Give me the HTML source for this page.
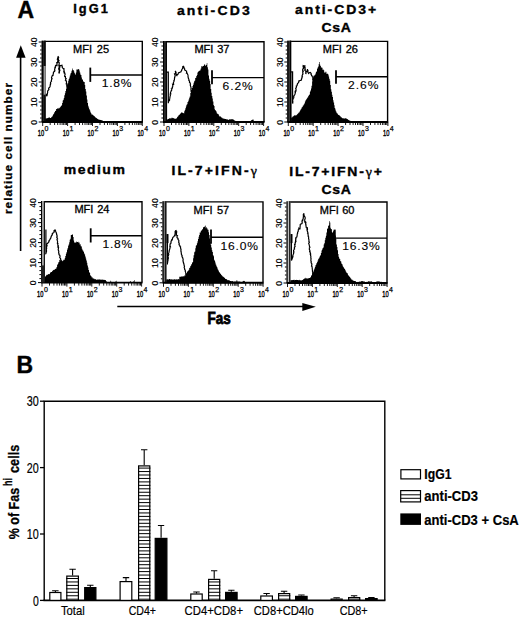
<!DOCTYPE html><html><head><meta charset="utf-8"><style>html,body{margin:0;padding:0;background:#fff;}svg{display:block;} text{font-family:"Liberation Sans",sans-serif;}</style></head><body>
<svg width="520" height="618" viewBox="0 0 520 618">
<rect width="520" height="618" fill="#fff"/>
<text x="17.5" y="17.7" font-size="23" font-weight="bold" stroke="#000" stroke-width="0.4">A</text>
<text x="73.3" y="13.0" font-size="12.8" font-weight="bold" stroke="#000" stroke-width="0.35" textLength="34.5" lengthAdjust="spacing">IgG1</text>
<text transform="translate(176.9,15.4) scale(1.12,1)" font-size="12.5" font-weight="bold" stroke="#000" stroke-width="0.35" textLength="65.1" lengthAdjust="spacing">anti-CD3</text>
<text transform="translate(295.0,14.3) scale(1.12,1)" font-size="12.5" font-weight="bold" stroke="#000" stroke-width="0.35" textLength="72.5" lengthAdjust="spacing">anti-CD3+</text>
<text transform="translate(321.5,32.3) scale(1.12,1)" font-size="12.5" font-weight="bold" stroke="#000" stroke-width="0.35" textLength="26.2" lengthAdjust="spacing">CsA</text>
<text transform="translate(63.8,173.5) scale(1.12,1)" font-size="12.5" font-weight="bold" stroke="#000" stroke-width="0.35" textLength="54.5" lengthAdjust="spacing">medium</text>
<text transform="translate(171.5,175.3) scale(1.12,1)" font-size="12.5" font-weight="bold" stroke="#000" stroke-width="0.35" textLength="76.2" lengthAdjust="spacing">IL-7+IFN-<tspan font-family='Liberation Serif' font-weight='normal'>&#947;</tspan></text>
<text transform="translate(289.2,175.8) scale(1.12,1)" font-size="12.5" font-weight="bold" stroke="#000" stroke-width="0.35" textLength="82.8" lengthAdjust="spacing">IL-7+IFN-<tspan font-family='Liberation Serif' font-weight='normal'>&#947;</tspan>+</text>
<text transform="translate(321.5,194.3) scale(1.12,1)" font-size="12.5" font-weight="bold" stroke="#000" stroke-width="0.35" textLength="26.2" lengthAdjust="spacing">CsA</text>
<polyline points="46.1,93.7 46.1,94.7 46.9,96.1 47.7,92.0 47.6,90.9 48.5,90.1 48.9,89.6 48.5,89.1 48.9,87.8 49.3,87.7 49.5,87.6 50.1,86.4 50.1,86.0 50.3,84.4 50.5,84.5 50.7,83.8 50.5,82.3 50.7,82.1 51.5,81.2 51.3,80.7 51.7,79.3 51.3,79.4 52.0,78.8 51.5,77.6 51.7,77.1 52.1,75.9 52.5,75.6 53.0,75.5 53.0,74.9 53.4,73.4 53.4,73.4 53.4,72.4 54.5,71.4 54.2,71.3 54.9,70.4 54.6,69.3 55.0,68.6 54.7,68.0 55.4,67.5 55.3,66.4 55.7,65.5 57.0,65.6 56.9,64.1 57.0,63.7 56.7,62.0 57.4,63.2 57.8,60.9 58.2,60.2 57.8,60.0 57.3,59.3 57.9,57.7 58.6,57.5 58.0,56.2 58.2,56.5 57.7,58.2 59.0,58.2 57.9,57.8 58.1,58.3 58.6,60.0 59.0,60.7 58.2,61.0 58.8,62.3 58.9,62.3 59.3,62.9 59.0,64.5 59.0,65.7 58.6,65.1 59.7,67.1 58.8,67.8 58.7,68.8 58.7,68.2 58.9,69.9 59.7,70.0 59.6,71.0 59.3,72.2 59.1,73.0 59.4,73.4 59.3,72.1 59.6,72.0 59.0,72.0 59.8,70.4 59.9,70.3 59.1,68.2 59.6,68.2 59.9,66.9 59.3,66.6 60.3,65.2 59.8,65.4 61.3,65.6 61.8,65.4 61.9,65.3 62.3,66.6 62.2,67.3 63.5,69.0 63.5,68.6 64.0,68.7 63.9,70.2 64.3,71.3 63.8,71.4 64.2,72.9 64.6,72.7 65.0,73.9 65.1,74.4 64.8,75.1 64.7,76.5 65.4,76.6 65.5,77.9 65.5,78.3 66.1,78.4 65.4,80.3 66.3,80.8 66.1,81.9 66.5,81.2 66.5,83.0 66.2,83.8 66.9,84.0 66.7,84.7 66.8,85.5 67.3,86.3 67.6,86.7 67.2,86.9 67.7,88.2 67.7,89.5 68.1,89.9 68.0,89.9 68.1,90.6 68.2,92.2 68.4,92.7 68.6,92.9 69.0,93.8 68.7,94.2 69.0,95.0 69.3,96.2 69.0,95.9 69.5,96.9 69.3,98.3 69.8,98.2 70.2,99.2 69.7,99.5 69.9,101.1 70.4,101.7 70.5,102.4 70.5,102.8 70.7,103.8 70.8,104.5 71.0,105.0 71.0,105.7 71.4,106.0 71.4,107.2 71.6,107.8 72.2,108.6 72.3,109.3 72.3,109.6 72.5,110.3 72.6,111.3 73.0,112.0 73.4,112.9 73.7,113.0 74.0,113.9 74.2,115.0 74.5,115.5 74.9,116.0 75.2,117.0 75.8,117.6 76.0,118.0 76.8,118.3 77.1,118.9 77.8,119.5 78.3,119.7 79.0,120.0 79.4,120.3 80.0,121.0" fill="none" stroke="#000" stroke-width="1.2" stroke-linejoin="miter" stroke-miterlimit="2"/>
<polygon points="44.0,122.5 44.0,118.2 44.5,118.2 44.5,118.4 45.1,118.4 45.1,118.5 45.6,118.5 45.6,118.4 46.2,118.4 46.2,118.4 46.7,118.4 46.7,118.0 47.3,118.0 47.3,118.3 47.8,118.3 47.8,118.0 48.4,118.0 48.4,117.5 48.9,117.5 48.9,117.7 49.5,117.7 49.5,117.3 50.0,117.3 50.0,118.0 50.6,118.0 50.6,117.9 51.1,117.9 51.1,117.3 51.7,117.3 51.7,116.7 52.2,116.7 52.2,116.3 52.8,116.3 52.8,114.9 53.3,114.9 53.3,114.1 53.9,114.1 53.9,113.2 54.4,113.2 54.4,112.0 55.0,112.0 55.0,111.1 55.5,111.1 55.5,110.7 56.1,110.7 56.1,109.0 56.6,109.0 56.6,109.0 57.2,109.0 57.2,108.2 57.7,108.2 57.7,108.6 58.3,108.6 58.3,108.5 58.8,108.5 58.8,107.7 59.4,107.7 59.4,108.3 59.9,108.3 59.9,107.2 60.5,107.2 60.5,106.4 61.0,106.4 61.0,106.1 61.6,106.1 61.6,105.1 62.1,105.1 62.1,103.0 62.7,103.0 62.7,100.6 63.2,100.6 63.2,99.7 63.8,99.7 63.8,98.1 64.3,98.1 64.3,95.3 64.9,95.3 64.9,93.2 65.4,93.2 65.4,90.9 66.0,90.9 66.0,88.8 66.5,88.8 66.5,85.4 67.1,85.4 67.1,84.3 67.6,84.3 67.6,83.3 68.2,83.3 68.2,80.7 68.7,80.7 68.7,79.1 69.3,79.1 69.3,77.4 69.8,77.4 69.8,75.4 70.4,75.4 70.4,73.5 70.9,73.5 70.9,72.8 71.5,72.8 71.5,70.8 72.0,70.8 72.0,68.5 72.6,68.5 72.6,70.2 73.1,70.2 73.1,70.0 73.7,70.0 73.7,71.2 74.2,71.2 74.2,72.8 74.8,72.8 74.8,73.8 75.3,73.8 75.3,74.8 75.9,74.8 75.9,72.4 76.4,72.4 76.4,69.6 77.0,69.6 77.0,69.4 77.5,69.4 77.5,69.6 78.1,69.6 78.1,69.1 78.6,69.1 78.6,69.3 79.2,69.3 79.2,70.6 79.7,70.6 79.7,72.4 80.3,72.4 80.3,74.4 80.8,74.4 80.8,74.9 81.4,74.9 81.4,77.6 81.9,77.6 81.9,79.5 82.5,79.5 82.5,79.4 83.0,79.4 83.0,81.3 83.6,81.3 83.6,82.0 84.1,82.0 84.1,82.0 84.7,82.0 84.7,84.9 85.2,84.9 85.2,88.9 85.8,88.9 85.8,91.5 86.3,91.5 86.3,95.5 86.9,95.5 86.9,99.6 87.4,99.6 87.4,102.9 88.0,102.9 88.0,105.8 88.5,105.8 88.5,107.4 89.1,107.4 89.1,109.0 89.6,109.0 89.6,110.3 90.2,110.3 90.2,111.7 90.7,111.7 90.7,113.1 91.3,113.1 91.3,114.3 91.8,114.3 91.8,114.8 92.4,114.8 92.4,114.6 92.9,114.6 92.9,115.1 93.5,115.1 93.5,116.0 94.0,116.0 94.0,115.9 94.6,115.9 94.6,116.8 95.1,116.8 95.1,117.2 95.7,117.2 95.7,117.8 96.2,117.8 96.2,118.1 96.8,118.1 96.8,118.6 97.3,118.6 97.3,119.1 97.9,119.1 97.9,119.1 98.4,119.1 98.4,119.8 99.0,119.8 99.0,120.1 99.5,120.1 99.5,119.6 100.1,119.6 100.1,119.9 100.6,119.9 100.6,120.1 101.2,120.1 101.2,120.2 101.7,120.2 101.7,120.3 102.3,120.3 104.0,122.5" fill="#000"/>
<path d="M43.7,41.4 H142.3 V122.0" fill="none" stroke="#000" stroke-width="1.4"/>
<rect x="41.7" y="40.7" width="3.9" height="81.3" fill="#222"/>
<path d="M42.3,122.0V40.7M45.0,122.0V40.7" stroke="#000" stroke-width="1.2"/>
<path d="M41.7,122.0 H142.8" stroke="#000" stroke-width="1.9"/>
<path d="M38.7,122.0h3.0M40.1,118.0h1.6M40.1,114.0h1.6M40.1,110.0h1.6M40.1,106.0h1.6M38.7,102.0h3.0M40.1,98.0h1.6M40.1,94.0h1.6M40.1,90.0h1.6M40.1,86.0h1.6M38.7,82.0h3.0M40.1,78.0h1.6M40.1,74.0h1.6M40.1,70.0h1.6M40.1,66.0h1.6M38.7,62.0h3.0M40.1,58.0h1.6M40.1,54.0h1.6M40.1,50.0h1.6M40.1,46.0h1.6M38.7,42.0h3.0" stroke="#000" stroke-width="1"/>
<path d="M42.7,122.0v4.0M50.2,122.0v3.0M54.6,122.0v3.0M57.7,122.0v3.0M60.1,122.0v3.0M62.1,122.0v3.0M63.7,122.0v3.0M65.2,122.0v3.0M66.5,122.0v3.0M67.6,122.0v4.0M75.1,122.0v3.0M79.5,122.0v3.0M82.6,122.0v3.0M85.0,122.0v3.0M87.0,122.0v3.0M88.6,122.0v3.0M90.1,122.0v3.0M91.4,122.0v3.0M92.5,122.0v4.0M100.0,122.0v3.0M104.4,122.0v3.0M107.5,122.0v3.0M109.9,122.0v3.0M111.9,122.0v3.0M113.5,122.0v3.0M115.0,122.0v3.0M116.3,122.0v3.0M117.4,122.0v4.0M124.9,122.0v3.0M129.3,122.0v3.0M132.4,122.0v3.0M134.8,122.0v3.0M136.8,122.0v3.0M138.4,122.0v3.0M139.9,122.0v3.0M141.2,122.0v3.0M142.3,122.0v4" stroke="#000" stroke-width="0.9"/>
<text transform="translate(37.0,122.3) rotate(-90)" text-anchor="middle" font-size="8.6" stroke="#000" stroke-width="0.15">0</text>
<text transform="translate(37.0,102.3) rotate(-90)" text-anchor="middle" font-size="8.6" stroke="#000" stroke-width="0.15">10</text>
<text transform="translate(37.0,82.3) rotate(-90)" text-anchor="middle" font-size="8.6" stroke="#000" stroke-width="0.15">20</text>
<text transform="translate(37.0,62.3) rotate(-90)" text-anchor="middle" font-size="8.6" stroke="#000" stroke-width="0.15">30</text>
<text transform="translate(37.0,42.3) rotate(-90)" text-anchor="middle" font-size="8.6" stroke="#000" stroke-width="0.15">40</text>
<text x="37.8" y="136.0" font-size="9" textLength="6.4" lengthAdjust="spacingAndGlyphs" stroke="#000" stroke-width="0.4">10</text>
<text x="44.6" y="130.9" font-size="7.2" textLength="3.9" lengthAdjust="spacingAndGlyphs" stroke="#000" stroke-width="0.25">0</text>
<text x="62.7" y="136.0" font-size="9" textLength="6.4" lengthAdjust="spacingAndGlyphs" stroke="#000" stroke-width="0.4">10</text>
<text x="69.5" y="130.9" font-size="7.2" textLength="3.9" lengthAdjust="spacingAndGlyphs" stroke="#000" stroke-width="0.25">1</text>
<text x="87.6" y="136.0" font-size="9" textLength="6.4" lengthAdjust="spacingAndGlyphs" stroke="#000" stroke-width="0.4">10</text>
<text x="94.4" y="130.9" font-size="7.2" textLength="3.9" lengthAdjust="spacingAndGlyphs" stroke="#000" stroke-width="0.25">2</text>
<text x="112.5" y="136.0" font-size="9" textLength="6.4" lengthAdjust="spacingAndGlyphs" stroke="#000" stroke-width="0.4">10</text>
<text x="119.3" y="130.9" font-size="7.2" textLength="3.9" lengthAdjust="spacingAndGlyphs" stroke="#000" stroke-width="0.25">3</text>
<text x="137.4" y="136.0" font-size="9" textLength="6.4" lengthAdjust="spacingAndGlyphs" stroke="#000" stroke-width="0.4">10</text>
<text x="144.2" y="130.9" font-size="7.2" textLength="3.9" lengthAdjust="spacingAndGlyphs" stroke="#000" stroke-width="0.25">4</text>
<rect x="43.7" y="66.0" width="2.0" height="28.7" fill="#999"/>
<path d="M90.3,67.6V81.9" stroke="#000" stroke-width="1.8"/>
<path d="M90.3,75.0H142.3" stroke="#000" stroke-width="1.4"/>
<text x="73.1" y="52.5" font-size="10.5" stroke="#000" stroke-width="0.3" textLength="19.0" lengthAdjust="spacingAndGlyphs">MFI</text>
<text x="96.8" y="52.5" font-size="10.5" stroke="#000" stroke-width="0.3" textLength="12.3" lengthAdjust="spacingAndGlyphs">25</text>
<text transform="translate(101.8,87.0) scale(1.06,1)" font-size="11.4" stroke="#000" stroke-width="0.12" textLength="28.1" lengthAdjust="spacing">1.8%</text>
<polyline points="166.5,122.0 166.5,72.2 168.3,72.2 168.3,103.2 168.4,102.1 168.6,101.2 169.3,100.6 169.6,100.1 169.5,99.5 169.7,98.9 169.9,97.4 170.0,97.1 170.1,96.1 170.4,95.4 170.2,94.7 170.3,94.0 170.8,93.9 170.4,93.1 170.5,92.5 171.0,91.6 171.1,90.9 171.6,90.5 171.8,89.1 171.5,88.8 172.1,88.5 172.6,86.8 172.4,86.8 172.6,86.4 172.9,85.0 172.6,84.2 173.6,84.3 173.4,82.5 173.7,81.9 174.0,81.2 173.7,80.9 174.4,80.0 174.4,79.4 174.5,78.6 174.6,77.1 174.6,77.8 174.8,77.0 175.3,75.0 175.2,75.1 174.5,73.9 175.1,73.6 175.6,72.7 175.6,72.1 175.9,72.5 175.5,70.9 175.3,72.2 175.4,72.1 176.4,73.0 175.6,72.9 176.8,75.2 176.9,75.0 176.6,76.0 176.9,75.7 177.1,74.9 178.1,74.1 178.4,72.9 179.6,72.4 180.0,72.2 181.0,71.9 181.1,71.2 181.2,71.1 182.0,69.6 181.7,69.7 182.6,68.5 182.8,67.4 182.7,66.7 183.3,66.3 183.7,66.6 184.2,68.0 183.5,67.5 184.7,69.0 184.6,69.6 184.8,70.1 185.9,70.8 186.5,70.9 186.7,72.4 186.5,73.1 187.5,73.0 187.1,73.3 187.8,74.7 188.2,75.7 188.2,75.5 188.0,76.9 188.2,77.3 188.3,78.0 189.0,79.7 189.1,79.9 188.8,80.3 189.3,80.9 189.5,81.2 189.5,82.4 190.3,83.1 190.3,84.6 190.5,84.8 190.3,85.6 190.5,86.0 190.7,86.4 191.0,87.7 191.2,88.3 190.9,88.9 191.0,89.9 191.5,91.2 191.3,91.4 191.9,91.7 191.8,92.9 191.6,93.4 192.4,94.7 192.5,94.3 192.4,96.0 192.3,96.1 192.7,96.9 192.9,97.6 193.0,98.8 192.8,99.5 193.0,100.0 193.4,101.0 193.1,101.0 193.5,102.4 193.6,102.6 193.8,103.8 193.8,104.5 194.1,105.5 193.9,106.2 194.4,106.1 194.2,107.0 194.6,107.9 194.7,108.9 194.9,109.4 195.0,110.0 195.4,111.0 195.3,111.0 195.7,112.3 196.2,112.7 196.1,113.4 196.7,114.2 196.6,114.3 197.0,115.1 197.2,116.2 197.6,116.7 197.9,117.5 198.0,118.0 198.4,118.4 199.1,119.2 199.7,119.1 200.4,120.0 200.8,120.0 201.4,120.3 202.0,121.0" fill="none" stroke="#000" stroke-width="1.2" stroke-linejoin="miter" stroke-miterlimit="2"/>
<polygon points="165.5,122.5 165.5,119.5 166.1,119.5 166.1,119.1 166.6,119.1 166.6,119.5 167.2,119.5 167.2,119.4 167.7,119.4 167.7,118.9 168.3,118.9 168.3,118.9 168.8,118.9 168.8,118.4 169.4,118.4 169.4,118.3 169.9,118.3 169.9,118.2 170.5,118.2 170.5,118.4 171.0,118.4 171.0,117.8 171.6,117.8 171.6,118.4 172.1,118.4 172.1,117.8 172.7,117.8 172.7,118.1 173.2,118.1 173.2,118.1 173.8,118.1 173.8,118.8 174.3,118.8 174.3,118.6 174.9,118.6 174.9,118.8 175.4,118.8 175.4,118.8 176.0,118.8 176.0,118.8 176.5,118.8 176.5,118.0 177.1,118.0 177.1,117.1 177.6,117.1 177.6,116.6 178.2,116.6 178.2,115.8 178.7,115.8 178.7,114.9 179.3,114.9 179.3,114.8 179.8,114.8 179.8,114.0 180.4,114.0 180.4,113.3 180.9,113.3 180.9,112.8 181.5,112.8 181.5,112.3 182.0,112.3 182.0,112.6 182.6,112.6 182.6,112.9 183.1,112.9 183.1,113.1 183.7,113.1 183.7,113.6 184.2,113.6 184.2,111.2 184.8,111.2 184.8,110.0 185.3,110.0 185.3,108.3 185.9,108.3 185.9,106.6 186.4,106.6 186.4,104.8 187.0,104.8 187.0,104.3 187.5,104.3 187.5,102.0 188.1,102.0 188.1,101.3 188.6,101.3 188.6,99.4 189.2,99.4 189.2,97.8 189.7,97.8 189.7,96.6 190.3,96.6 190.3,93.0 190.8,93.0 190.8,90.0 191.4,90.0 191.4,89.4 191.9,89.4 191.9,88.1 192.5,88.1 192.5,85.9 193.0,85.9 193.0,84.8 193.6,84.8 193.6,82.8 194.1,82.8 194.1,81.2 194.7,81.2 194.7,80.4 195.2,80.4 195.2,77.9 195.8,77.9 195.8,77.7 196.3,77.7 196.3,76.0 196.9,76.0 196.9,74.9 197.4,74.9 197.4,72.6 198.0,72.6 198.0,71.9 198.5,71.9 198.5,70.9 199.1,70.9 199.1,70.6 199.6,70.6 199.6,70.9 200.2,70.9 200.2,69.7 200.7,69.7 200.7,68.5 201.3,68.5 201.3,66.0 201.8,66.0 201.8,66.8 202.4,66.8 202.4,66.3 202.9,66.3 202.9,65.8 203.5,65.8 203.5,65.9 204.0,65.9 204.0,64.4 204.6,64.4 204.6,64.6 205.1,64.6 205.1,66.0 205.7,66.0 205.7,65.1 206.2,65.1 206.2,64.8 206.8,64.8 206.8,62.9 207.3,62.9 207.3,67.3 207.9,67.3 207.9,69.5 208.4,69.5 208.4,75.4 209.0,75.4 209.0,78.7 209.5,78.7 209.5,80.7 210.1,80.7 210.1,83.9 210.6,83.9 210.6,88.9 211.2,88.9 211.2,92.8 211.7,92.8 211.7,95.9 212.3,95.9 212.3,98.5 212.8,98.5 212.8,101.5 213.4,101.5 213.4,104.9 213.9,104.9 213.9,106.1 214.5,106.1 214.5,109.2 215.0,109.2 215.0,109.9 215.6,109.9 215.6,110.7 216.1,110.7 216.1,111.4 216.7,111.4 216.7,113.2 217.2,113.2 217.2,113.8 217.8,113.8 217.8,114.0 218.3,114.0 218.3,114.5 218.9,114.5 218.9,115.7 219.4,115.7 219.4,116.4 220.0,116.4 220.0,116.0 220.5,116.0 220.5,116.9 221.1,116.9 221.1,117.5 221.6,117.5 221.6,117.6 222.2,117.6 222.2,118.1 222.7,118.1 222.7,118.7 223.3,118.7 223.3,118.4 223.8,118.4 223.8,118.6 224.4,118.6 224.4,119.0 224.9,119.0 224.9,119.0 225.5,119.0 225.5,119.1 226.0,119.1 226.0,119.1 226.6,119.1 226.6,119.7 227.1,119.7 227.1,119.3 227.7,119.3 227.7,119.8 228.2,119.8 228.2,120.0 228.8,120.0 228.8,119.6 229.3,119.6 229.3,119.3 229.9,119.3 229.9,119.4 230.4,119.4 230.4,119.2 231.0,119.2 231.0,119.3 231.5,119.3 231.5,119.2 232.1,119.2 232.1,119.3 232.6,119.3 232.6,119.3 233.2,119.3 233.2,119.4 233.7,119.4 233.7,119.9 234.3,119.9 234.3,120.4 234.8,120.4 234.8,120.8 235.4,120.8 235.4,120.9 235.9,120.9 235.9,121.3 236.5,121.3 236.5,121.3 237.0,121.3 237.0,121.3 237.6,121.3 237.6,121.3 238.1,121.3 238.1,121.3 238.7,121.3 238.7,121.3 239.2,121.3 239.2,121.3 239.8,121.3 239.8,121.3 240.3,121.3 240.3,121.3 240.9,121.3 240.9,121.3 241.4,121.3 241.4,121.3 242.0,121.3 242.0,121.3 242.5,121.3 242.5,121.3 243.1,121.3 243.1,121.3 243.6,121.3 243.6,121.3 244.2,121.3 244.2,121.3 244.7,121.3 244.7,121.3 245.3,121.3 245.3,121.3 245.8,121.3 245.8,121.3 246.4,121.3 246.4,121.3 246.9,121.3 246.9,121.3 247.5,121.3 247.5,121.3 248.0,121.3 248.0,121.3 248.6,121.3 248.6,121.3 249.1,121.3 249.1,121.3 249.7,121.3 249.7,121.3 250.2,121.3 250.2,121.1 250.8,121.1 250.8,120.7 251.3,120.7 251.3,120.0 251.9,120.0 251.9,120.0 252.4,120.0 252.4,119.5 253.0,119.5 253.0,119.5 253.5,119.5 254.0,122.5" fill="#000"/>
<path d="M165.0,41.7 H264.0 V122.0" fill="none" stroke="#000" stroke-width="1.4"/>
<rect x="163.0" y="41.0" width="3.9" height="81.0" fill="#333"/>
<path d="M163.6,122.0V41.0M166.3,122.0V41.0" stroke="#000" stroke-width="1.2"/>
<path d="M163.0,122.0 H264.5" stroke="#000" stroke-width="1.9"/>
<path d="M160.0,122.0h3.0M161.4,118.0h1.6M161.4,114.0h1.6M161.4,110.0h1.6M161.4,106.0h1.6M160.0,102.0h3.0M161.4,98.0h1.6M161.4,94.0h1.6M161.4,90.0h1.6M161.4,86.0h1.6M160.0,82.0h3.0M161.4,78.0h1.6M161.4,74.0h1.6M161.4,70.0h1.6M161.4,66.0h1.6M160.0,62.0h3.0M161.4,58.0h1.6M161.4,54.0h1.6M161.4,50.0h1.6M161.4,46.0h1.6M160.0,42.0h3.0" stroke="#000" stroke-width="1"/>
<path d="M164.0,122.0v4.0M171.5,122.0v3.0M175.9,122.0v3.0M179.0,122.0v3.0M181.4,122.0v3.0M183.4,122.0v3.0M185.0,122.0v3.0M186.5,122.0v3.0M187.8,122.0v3.0M188.9,122.0v4.0M196.4,122.0v3.0M200.8,122.0v3.0M203.9,122.0v3.0M206.3,122.0v3.0M208.3,122.0v3.0M209.9,122.0v3.0M211.4,122.0v3.0M212.7,122.0v3.0M213.8,122.0v4.0M221.3,122.0v3.0M225.7,122.0v3.0M228.8,122.0v3.0M231.2,122.0v3.0M233.2,122.0v3.0M234.8,122.0v3.0M236.3,122.0v3.0M237.6,122.0v3.0M238.7,122.0v4.0M246.2,122.0v3.0M250.6,122.0v3.0M253.7,122.0v3.0M256.1,122.0v3.0M258.1,122.0v3.0M259.7,122.0v3.0M261.2,122.0v3.0M262.5,122.0v3.0M263.6,122.0v4" stroke="#000" stroke-width="0.9"/>
<text transform="translate(158.3,122.3) rotate(-90)" text-anchor="middle" font-size="8.6" stroke="#000" stroke-width="0.15">0</text>
<text transform="translate(158.3,102.3) rotate(-90)" text-anchor="middle" font-size="8.6" stroke="#000" stroke-width="0.15">10</text>
<text transform="translate(158.3,82.3) rotate(-90)" text-anchor="middle" font-size="8.6" stroke="#000" stroke-width="0.15">20</text>
<text transform="translate(158.3,62.3) rotate(-90)" text-anchor="middle" font-size="8.6" stroke="#000" stroke-width="0.15">30</text>
<text transform="translate(158.3,42.3) rotate(-90)" text-anchor="middle" font-size="8.6" stroke="#000" stroke-width="0.15">40</text>
<text x="159.1" y="136.0" font-size="9" textLength="6.4" lengthAdjust="spacingAndGlyphs" stroke="#000" stroke-width="0.4">10</text>
<text x="165.9" y="130.9" font-size="7.2" textLength="3.9" lengthAdjust="spacingAndGlyphs" stroke="#000" stroke-width="0.25">0</text>
<text x="184.0" y="136.0" font-size="9" textLength="6.4" lengthAdjust="spacingAndGlyphs" stroke="#000" stroke-width="0.4">10</text>
<text x="190.8" y="130.9" font-size="7.2" textLength="3.9" lengthAdjust="spacingAndGlyphs" stroke="#000" stroke-width="0.25">1</text>
<text x="208.9" y="136.0" font-size="9" textLength="6.4" lengthAdjust="spacingAndGlyphs" stroke="#000" stroke-width="0.4">10</text>
<text x="215.7" y="130.9" font-size="7.2" textLength="3.9" lengthAdjust="spacingAndGlyphs" stroke="#000" stroke-width="0.25">2</text>
<text x="233.8" y="136.0" font-size="9" textLength="6.4" lengthAdjust="spacingAndGlyphs" stroke="#000" stroke-width="0.4">10</text>
<text x="240.6" y="130.9" font-size="7.2" textLength="3.9" lengthAdjust="spacingAndGlyphs" stroke="#000" stroke-width="0.25">3</text>
<text x="258.7" y="136.0" font-size="9" textLength="6.4" lengthAdjust="spacingAndGlyphs" stroke="#000" stroke-width="0.4">10</text>
<text x="265.5" y="130.9" font-size="7.2" textLength="3.9" lengthAdjust="spacingAndGlyphs" stroke="#000" stroke-width="0.25">4</text>
<path d="M212.0,70.2V84.2" stroke="#000" stroke-width="1.8"/>
<path d="M212.0,77.6H264.0" stroke="#000" stroke-width="1.4"/>
<text x="194.4" y="53.0" font-size="10.5" stroke="#000" stroke-width="0.3" textLength="19.0" lengthAdjust="spacingAndGlyphs">MFI</text>
<text x="217.2" y="53.0" font-size="10.5" stroke="#000" stroke-width="0.3" textLength="12.3" lengthAdjust="spacingAndGlyphs">37</text>
<text transform="translate(222.5,89.6) scale(1.06,1)" font-size="11.4" stroke="#000" stroke-width="0.12" textLength="28.6" lengthAdjust="spacing">6.2%</text>
<polyline points="290.8,122.0 290.8,71.8 292.6,71.8 292.6,103.5 292.8,103.0 292.7,101.8 292.9,101.9 292.8,101.1 292.6,100.0 293.0,99.3 293.1,98.5 293.6,98.2 293.8,97.4 293.9,95.7 294.3,95.4 294.6,95.0 295.0,94.0 295.3,92.7 295.1,92.2 295.4,92.2 295.3,90.4 296.0,90.8 296.0,88.9 295.7,88.3 296.0,88.0 296.6,86.7 296.2,86.1 297.0,85.3 297.4,84.8 297.2,84.3 297.8,83.2 297.8,83.5 298.9,81.9 298.7,81.0 299.3,81.0 299.7,80.5 300.8,80.4 301.5,80.0 301.5,78.8 301.8,78.4 301.8,78.7 302.1,76.4 302.7,77.4 302.2,76.7 302.1,75.9 302.6,74.5 302.3,74.4 303.0,73.9 302.7,72.6 303.4,70.9 302.7,71.0 302.7,69.3 302.7,69.1 303.5,68.6 303.5,67.1 303.1,67.4 303.2,65.6 303.7,65.8 304.8,65.8 304.4,66.8 305.5,67.3 304.5,67.5 305.4,69.3 304.9,69.5 304.8,70.3 305.7,71.0 305.8,71.3 305.8,72.5 305.8,72.5 305.8,74.0 306.0,73.5 306.0,72.7 306.0,71.8 307.3,71.5 307.0,71.2 307.5,69.8 307.5,69.1 307.5,70.5 307.9,70.5 307.9,70.6 307.9,72.2 308.5,73.2 308.6,73.4 309.3,72.7 310.2,72.4 310.6,72.6 311.3,73.9 311.0,74.3 311.8,75.7 311.8,75.6 312.4,77.0 312.9,77.0 313.0,78.0 313.0,78.6 312.8,79.6 313.4,80.6 313.3,81.6 313.8,81.7 313.5,82.9 314.0,83.1 313.7,83.2 313.8,85.0 314.1,85.4 314.5,86.2 314.2,86.0 314.9,86.7 315.1,87.7 314.4,88.3 315.1,89.2 315.0,90.0 314.9,90.1 314.9,91.5 315.3,92.4 315.3,92.6 315.8,93.3 316.0,94.0 316.2,95.2 316.1,96.0 316.2,96.9 316.6,96.9 316.8,98.0 317.0,98.8 317.1,99.3 316.9,100.3 317.4,100.7 317.4,101.5 317.3,101.8 317.6,102.5 317.7,103.9 317.8,104.2 318.0,105.0 318.5,105.8 318.5,106.0 318.8,106.9 319.0,108.1 319.3,108.1 319.6,109.2 319.4,109.3 319.6,110.4 320.0,110.6 320.5,111.3 320.6,112.3 320.8,113.3 321.0,113.6 321.1,114.1 321.2,114.6 321.5,116.0 321.9,116.0 322.0,117.0 322.4,117.5 323.0,118.0 323.6,118.3 324.1,119.1 324.3,119.3 324.9,120.1 325.6,120.7 326.0,121.0" fill="none" stroke="#000" stroke-width="1.2" stroke-linejoin="miter" stroke-miterlimit="2"/>
<polygon points="289.5,122.5 289.5,118.1 290.1,118.1 290.1,118.2 290.6,118.2 290.6,117.6 291.2,117.6 291.2,117.8 291.7,117.8 291.7,117.4 292.3,117.4 292.3,116.7 292.8,116.7 292.8,116.5 293.4,116.5 293.4,116.1 293.9,116.1 293.9,115.2 294.5,115.2 294.5,115.6 295.0,115.6 295.0,115.6 295.6,115.6 295.6,115.2 296.1,115.2 296.1,115.2 296.7,115.2 296.7,114.7 297.2,114.7 297.2,114.0 297.8,114.0 297.8,113.5 298.3,113.5 298.3,112.8 298.9,112.8 298.9,112.6 299.4,112.6 299.4,111.6 300.0,111.6 300.0,110.6 300.5,110.6 300.5,109.5 301.1,109.5 301.1,108.7 301.6,108.7 301.6,107.5 302.2,107.5 302.2,107.1 302.7,107.1 302.7,105.8 303.3,105.8 303.3,105.3 303.8,105.3 303.8,104.2 304.4,104.2 304.4,103.2 304.9,103.2 304.9,101.5 305.5,101.5 305.5,100.2 306.0,100.2 306.0,99.4 306.6,99.4 306.6,98.8 307.1,98.8 307.1,97.7 307.7,97.7 307.7,97.2 308.2,97.2 308.2,95.9 308.8,95.9 308.8,95.1 309.3,95.1 309.3,94.5 309.9,94.5 309.9,91.8 310.4,91.8 310.4,90.4 311.0,90.4 311.0,88.4 311.5,88.4 311.5,85.8 312.1,85.8 312.1,81.6 312.6,81.6 312.6,78.1 313.2,78.1 313.2,76.4 313.7,76.4 313.7,75.5 314.3,75.5 314.3,75.4 314.8,75.4 314.8,74.7 315.4,74.7 315.4,73.6 315.9,73.6 315.9,71.8 316.5,71.8 316.5,71.4 317.0,71.4 317.0,68.7 317.6,68.7 317.6,67.5 318.1,67.5 318.1,66.5 318.7,66.5 318.7,64.1 319.2,64.1 319.2,62.0 319.8,62.0 319.8,64.8 320.3,64.8 320.3,66.1 320.9,66.1 320.9,67.5 321.4,67.5 321.4,67.4 322.0,67.4 322.0,67.8 322.5,67.8 322.5,69.8 323.1,69.8 323.1,69.6 323.6,69.6 323.6,70.2 324.2,70.2 324.2,72.2 324.7,72.2 324.7,72.9 325.3,72.9 325.3,71.7 325.8,71.7 325.8,71.7 326.4,71.7 326.4,73.8 326.9,73.8 326.9,74.1 327.5,74.1 327.5,73.6 328.0,73.6 328.0,74.4 328.6,74.4 328.6,76.4 329.1,76.4 329.1,78.8 329.7,78.8 329.7,80.8 330.2,80.8 330.2,85.0 330.8,85.0 330.8,89.2 331.3,89.2 331.3,91.7 331.9,91.7 331.9,94.7 332.4,94.7 332.4,97.0 333.0,97.0 333.0,100.2 333.5,100.2 333.5,102.6 334.1,102.6 334.1,105.2 334.6,105.2 334.6,107.9 335.2,107.9 335.2,109.5 335.7,109.5 335.7,111.3 336.3,111.3 336.3,112.5 336.8,112.5 336.8,113.3 337.4,113.3 337.4,113.8 337.9,113.8 337.9,114.7 338.5,114.7 338.5,114.9 339.0,114.9 339.0,115.3 339.6,115.3 339.6,115.7 340.1,115.7 340.1,116.3 340.7,116.3 340.7,117.2 341.2,117.2 341.2,117.3 341.8,117.3 341.8,118.0 342.3,118.0 342.3,118.3 342.9,118.3 342.9,118.4 343.4,118.4 343.4,118.2 344.0,118.2 344.0,118.6 344.5,118.6 344.5,118.5 345.1,118.5 345.1,118.3 345.6,118.3 345.6,118.2 346.2,118.2 346.2,118.4 346.7,118.4 346.7,119.0 347.3,119.0 347.3,119.0 347.8,119.0 347.8,119.7 348.4,119.7 348.4,120.1 348.9,120.1 348.9,120.4 349.5,120.4 349.5,120.4 350.0,120.4 352.0,122.5" fill="#000"/>
<path d="M289.3,41.4 H387.6 V122.0" fill="none" stroke="#000" stroke-width="1.4"/>
<rect x="287.3" y="40.7" width="3.9" height="81.3" fill="#333"/>
<path d="M287.9,122.0V40.7M290.6,122.0V40.7" stroke="#000" stroke-width="1.2"/>
<path d="M287.3,122.0 H388.1" stroke="#000" stroke-width="1.9"/>
<path d="M284.3,122.0h3.0M285.7,118.0h1.6M285.7,114.0h1.6M285.7,110.0h1.6M285.7,106.0h1.6M284.3,102.0h3.0M285.7,98.0h1.6M285.7,94.0h1.6M285.7,90.0h1.6M285.7,86.0h1.6M284.3,82.0h3.0M285.7,78.0h1.6M285.7,74.0h1.6M285.7,70.0h1.6M285.7,66.0h1.6M284.3,62.0h3.0M285.7,58.0h1.6M285.7,54.0h1.6M285.7,50.0h1.6M285.7,46.0h1.6M284.3,42.0h3.0" stroke="#000" stroke-width="1"/>
<path d="M288.3,122.0v4.0M295.8,122.0v3.0M300.2,122.0v3.0M303.3,122.0v3.0M305.7,122.0v3.0M307.7,122.0v3.0M309.3,122.0v3.0M310.8,122.0v3.0M312.1,122.0v3.0M313.2,122.0v4.0M320.7,122.0v3.0M325.1,122.0v3.0M328.2,122.0v3.0M330.6,122.0v3.0M332.6,122.0v3.0M334.2,122.0v3.0M335.7,122.0v3.0M337.0,122.0v3.0M338.1,122.0v4.0M345.6,122.0v3.0M350.0,122.0v3.0M353.1,122.0v3.0M355.5,122.0v3.0M357.5,122.0v3.0M359.1,122.0v3.0M360.6,122.0v3.0M361.9,122.0v3.0M363.0,122.0v4.0M370.5,122.0v3.0M374.9,122.0v3.0M378.0,122.0v3.0M380.4,122.0v3.0M382.4,122.0v3.0M384.0,122.0v3.0M385.5,122.0v3.0M386.8,122.0v3.0M387.9,122.0v4" stroke="#000" stroke-width="0.9"/>
<text transform="translate(282.6,122.3) rotate(-90)" text-anchor="middle" font-size="8.6" stroke="#000" stroke-width="0.15">0</text>
<text transform="translate(282.6,102.3) rotate(-90)" text-anchor="middle" font-size="8.6" stroke="#000" stroke-width="0.15">10</text>
<text transform="translate(282.6,82.3) rotate(-90)" text-anchor="middle" font-size="8.6" stroke="#000" stroke-width="0.15">20</text>
<text transform="translate(282.6,62.3) rotate(-90)" text-anchor="middle" font-size="8.6" stroke="#000" stroke-width="0.15">30</text>
<text transform="translate(282.6,42.3) rotate(-90)" text-anchor="middle" font-size="8.6" stroke="#000" stroke-width="0.15">40</text>
<text x="283.4" y="136.0" font-size="9" textLength="6.4" lengthAdjust="spacingAndGlyphs" stroke="#000" stroke-width="0.4">10</text>
<text x="290.2" y="130.9" font-size="7.2" textLength="3.9" lengthAdjust="spacingAndGlyphs" stroke="#000" stroke-width="0.25">0</text>
<text x="308.3" y="136.0" font-size="9" textLength="6.4" lengthAdjust="spacingAndGlyphs" stroke="#000" stroke-width="0.4">10</text>
<text x="315.1" y="130.9" font-size="7.2" textLength="3.9" lengthAdjust="spacingAndGlyphs" stroke="#000" stroke-width="0.25">1</text>
<text x="333.2" y="136.0" font-size="9" textLength="6.4" lengthAdjust="spacingAndGlyphs" stroke="#000" stroke-width="0.4">10</text>
<text x="340.0" y="130.9" font-size="7.2" textLength="3.9" lengthAdjust="spacingAndGlyphs" stroke="#000" stroke-width="0.25">2</text>
<text x="358.1" y="136.0" font-size="9" textLength="6.4" lengthAdjust="spacingAndGlyphs" stroke="#000" stroke-width="0.4">10</text>
<text x="364.9" y="130.9" font-size="7.2" textLength="3.9" lengthAdjust="spacingAndGlyphs" stroke="#000" stroke-width="0.25">3</text>
<text x="383.0" y="136.0" font-size="9" textLength="6.4" lengthAdjust="spacingAndGlyphs" stroke="#000" stroke-width="0.4">10</text>
<text x="389.8" y="130.9" font-size="7.2" textLength="3.9" lengthAdjust="spacingAndGlyphs" stroke="#000" stroke-width="0.25">4</text>
<path d="M336.0,70.2V83.8" stroke="#000" stroke-width="1.8"/>
<path d="M336.0,76.7H387.6" stroke="#000" stroke-width="1.4"/>
<text x="322.8" y="52.5" font-size="10.5" stroke="#000" stroke-width="0.3" textLength="19.0" lengthAdjust="spacingAndGlyphs">MFI</text>
<text x="345.7" y="52.5" font-size="10.5" stroke="#000" stroke-width="0.3" textLength="12.3" lengthAdjust="spacingAndGlyphs">26</text>
<text transform="translate(348.1,89.0) scale(1.06,1)" font-size="11.4" stroke="#000" stroke-width="0.12" textLength="28.7" lengthAdjust="spacing">2.6%</text>
<polyline points="45.9,229.6 45.9,254.1 45.7,253.8 46.2,252.2 46.4,252.0 46.5,251.3 46.5,250.8 46.3,249.1 46.8,248.4 46.6,248.9 46.5,247.1 46.7,246.3 47.1,245.7 46.5,245.4 46.8,244.0 47.1,243.8 47.3,243.7 48.4,242.5 48.6,242.0 49.0,241.8 49.0,240.8 49.7,239.9 50.3,238.9 50.3,238.3 50.5,238.7 51.0,237.3 51.0,237.1 51.2,236.5 51.5,235.9 52.3,234.7 52.3,233.6 52.9,233.0 53.6,232.8 54.2,232.0 53.8,230.6 54.5,230.8 54.9,229.6 55.4,230.4 55.9,232.0 56.4,232.9 56.2,232.8 56.8,234.4 56.6,234.5 56.6,234.7 57.0,235.4 57.2,236.2 56.4,237.6 56.9,236.9 57.4,238.9 57.5,239.0 57.0,239.3 57.4,240.8 57.5,241.2 57.6,241.5 57.4,243.4 58.2,244.1 57.9,243.5 57.7,245.0 58.4,245.9 57.8,247.0 58.4,247.0 58.6,247.8 58.5,248.0 58.2,250.0 58.5,250.5 58.6,250.7 58.8,251.6 58.6,252.8 58.9,253.4 59.0,253.5 59.0,254.7 59.8,255.3 59.7,255.6 60.1,256.1 59.7,257.4 60.0,258.0 60.4,258.4 60.7,258.9 60.7,259.9 61.3,260.6 62.0,261.7 62.6,261.9 62.8,263.0 63.2,263.8 63.3,263.8 63.5,264.8 63.5,264.9 63.7,266.0 63.7,266.5 64.0,267.7 64.4,268.0 64.4,268.6 65.1,269.6 65.0,270.0 65.5,270.4 65.7,271.6 65.7,271.9 66.2,272.5 66.1,273.5 66.5,273.9 66.7,274.8 67.1,275.3 67.5,275.8 67.4,276.6 67.5,277.3 68.0,278.0 68.5,278.3 69.0,279.0 69.5,279.5 69.9,279.9 70.6,280.2 71.1,280.8 71.4,281.5 72.0,282.0" fill="none" stroke="#000" stroke-width="1.2" stroke-linejoin="miter" stroke-miterlimit="2"/>
<polygon points="43.9,283.1 43.9,277.6 44.4,277.6 44.4,276.8 45.0,276.8 45.0,276.6 45.5,276.6 45.5,276.2 46.1,276.2 46.1,275.3 46.6,275.3 46.6,274.8 47.2,274.8 47.2,275.0 47.7,275.0 47.7,274.2 48.3,274.2 48.3,274.1 48.8,274.1 48.8,274.2 49.4,274.2 49.4,273.9 49.9,273.9 49.9,272.7 50.5,272.7 50.5,272.2 51.0,272.2 51.0,271.9 51.6,271.9 51.6,272.1 52.1,272.1 52.1,270.9 52.7,270.9 52.7,270.6 53.2,270.6 53.2,270.1 53.8,270.1 53.8,269.7 54.3,269.7 54.3,269.7 54.9,269.7 54.9,268.9 55.4,268.9 55.4,268.7 56.0,268.7 56.0,268.5 56.5,268.5 56.5,267.0 57.1,267.0 57.1,265.1 57.6,265.1 57.6,264.1 58.2,264.1 58.2,262.6 58.7,262.6 58.7,261.9 59.3,261.9 59.3,260.0 59.8,260.0 59.8,259.4 60.4,259.4 60.4,260.2 60.9,260.2 60.9,261.1 61.5,261.1 61.5,261.1 62.0,261.1 62.0,261.4 62.6,261.4 62.6,260.7 63.1,260.7 63.1,260.2 63.7,260.2 63.7,259.5 64.2,259.5 64.2,259.8 64.8,259.8 64.8,257.9 65.3,257.9 65.3,256.1 65.9,256.1 65.9,253.7 66.4,253.7 66.4,252.2 67.0,252.2 67.0,249.7 67.5,249.7 67.5,248.2 68.1,248.2 68.1,245.8 68.6,245.8 68.6,244.5 69.2,244.5 69.2,242.3 69.7,242.3 69.7,239.8 70.3,239.8 70.3,238.8 70.8,238.8 70.8,235.0 71.4,235.0 71.4,235.0 71.9,235.0 71.9,234.4 72.5,234.4 72.5,234.5 73.0,234.5 73.0,236.9 73.6,236.9 73.6,240.6 74.1,240.6 74.1,242.7 74.7,242.7 74.7,242.1 75.2,242.1 75.2,242.7 75.8,242.7 75.8,242.5 76.3,242.5 76.3,241.6 76.9,241.6 76.9,241.9 77.4,241.9 77.4,241.9 78.0,241.9 78.0,241.7 78.5,241.7 78.5,242.7 79.1,242.7 79.1,242.5 79.6,242.5 79.6,244.4 80.2,244.4 80.2,244.3 80.7,244.3 80.7,246.2 81.3,246.2 81.3,246.6 81.8,246.6 81.8,248.8 82.4,248.8 82.4,250.3 82.9,250.3 82.9,250.8 83.5,250.8 83.5,251.9 84.0,251.9 84.0,253.6 84.6,253.6 84.6,254.5 85.1,254.5 85.1,256.5 85.7,256.5 85.7,258.6 86.2,258.6 86.2,260.5 86.8,260.5 86.8,262.7 87.3,262.7 87.3,265.5 87.9,265.5 87.9,267.5 88.4,267.5 88.4,270.0 89.0,270.0 89.0,272.0 89.5,272.0 89.5,273.1 90.1,273.1 90.1,274.9 90.6,274.9 90.6,276.0 91.2,276.0 91.2,276.4 91.7,276.4 91.7,277.5 92.3,277.5 92.3,277.6 92.8,277.6 92.8,278.7 93.4,278.7 93.4,278.3 93.9,278.3 93.9,278.7 94.5,278.7 94.5,279.3 95.0,279.3 95.0,278.9 95.6,278.9 95.6,279.4 96.1,279.4 96.1,279.7 96.7,279.7 96.7,279.8 97.2,279.8 97.2,279.6 97.8,279.6 97.8,279.4 98.3,279.4 98.3,279.4 98.9,279.4 98.9,279.7 99.4,279.7 99.4,279.2 100.0,279.2 100.0,279.3 100.5,279.3 100.5,280.0 101.1,280.0 101.1,279.8 101.6,279.8 101.6,279.5 102.2,279.5 102.2,279.7 102.7,279.7 102.7,279.6 103.3,279.6 103.3,280.1 103.8,280.1 103.8,279.7 104.4,279.7 104.4,280.1 104.9,280.1 104.9,280.2 105.5,280.2 105.5,280.0 106.0,280.0 106.0,281.0 106.6,281.0 106.6,282.2 107.1,282.2 107.1,282.4 107.7,282.4 107.7,282.4 108.2,282.4 108.2,282.4 108.8,282.4 108.8,282.4 109.3,282.4 109.3,282.4 109.9,282.4 109.9,282.4 110.4,282.4 110.4,280.7 111.0,280.7 111.0,281.7 111.5,281.7 111.5,282.4 112.1,282.4 112.1,282.4 112.6,282.4 112.6,282.4 113.2,282.4 113.2,282.4 113.7,282.4 113.7,282.4 114.3,282.4 114.3,282.4 114.8,282.4 114.8,282.4 115.4,282.4 115.4,281.6 115.9,281.6 115.9,280.8 116.5,280.8 116.5,282.4 117.0,282.4 117.0,282.4 117.6,282.4 117.6,282.4 118.1,282.4 118.1,282.4 118.7,282.4 118.7,282.4 119.2,282.4 119.2,282.4 119.8,282.4 119.8,282.4 120.3,282.4 120.3,282.4 120.9,282.4 120.9,282.4 121.4,282.4 121.4,282.4 122.0,282.4 122.0,282.4 122.5,282.4 122.5,282.4 123.1,282.4 123.1,282.4 123.6,282.4 123.6,282.4 124.2,282.4 124.2,282.4 124.7,282.4 124.7,282.4 125.3,282.4 125.3,282.4 125.8,282.4 125.8,282.4 126.4,282.4 126.4,282.4 126.9,282.4 126.9,282.4 127.5,282.4 127.5,282.4 128.0,282.4 128.0,282.4 128.6,282.4 128.6,282.4 129.1,282.4 129.1,282.4 129.7,282.4 129.7,281.7 130.2,281.7 130.2,280.9 130.8,280.9 130.8,282.4 131.3,282.4 131.3,282.4 131.9,282.4 131.9,282.4 132.4,282.4 132.4,282.4 133.0,282.4 133.0,282.4 133.5,282.4 133.5,281.0 134.1,281.0 134.1,280.0 134.6,280.0 134.6,283.1" fill="#000"/>
<path d="M43.0,201.7 H142.0 V282.6" fill="none" stroke="#000" stroke-width="1.4"/>
<rect x="41.0" y="201.0" width="3.9" height="81.6" fill="#ccc"/>
<path d="M41.6,282.6V201.0M44.3,282.6V201.0" stroke="#000" stroke-width="1.2"/>
<path d="M41.0,282.6 H142.5" stroke="#000" stroke-width="1.9"/>
<path d="M38.0,282.6h3.0M39.4,278.6h1.6M39.4,274.6h1.6M39.4,270.6h1.6M39.4,266.6h1.6M38.0,262.6h3.0M39.4,258.6h1.6M39.4,254.6h1.6M39.4,250.6h1.6M39.4,246.6h1.6M38.0,242.6h3.0M39.4,238.6h1.6M39.4,234.6h1.6M39.4,230.6h1.6M39.4,226.6h1.6M38.0,222.6h3.0M39.4,218.6h1.6M39.4,214.6h1.6M39.4,210.6h1.6M39.4,206.6h1.6M38.0,202.6h3.0" stroke="#000" stroke-width="1"/>
<path d="M42.0,282.6v4.0M49.5,282.6v3.0M53.9,282.6v3.0M57.0,282.6v3.0M59.4,282.6v3.0M61.4,282.6v3.0M63.0,282.6v3.0M64.5,282.6v3.0M65.8,282.6v3.0M66.9,282.6v4.0M74.4,282.6v3.0M78.8,282.6v3.0M81.9,282.6v3.0M84.3,282.6v3.0M86.3,282.6v3.0M87.9,282.6v3.0M89.4,282.6v3.0M90.7,282.6v3.0M91.8,282.6v4.0M99.3,282.6v3.0M103.7,282.6v3.0M106.8,282.6v3.0M109.2,282.6v3.0M111.2,282.6v3.0M112.8,282.6v3.0M114.3,282.6v3.0M115.6,282.6v3.0M116.7,282.6v4.0M124.2,282.6v3.0M128.6,282.6v3.0M131.7,282.6v3.0M134.1,282.6v3.0M136.1,282.6v3.0M137.7,282.6v3.0M139.2,282.6v3.0M140.5,282.6v3.0M141.6,282.6v4" stroke="#000" stroke-width="0.9"/>
<text transform="translate(36.3,282.9) rotate(-90)" text-anchor="middle" font-size="8.6" stroke="#000" stroke-width="0.15">0</text>
<text transform="translate(36.3,262.9) rotate(-90)" text-anchor="middle" font-size="8.6" stroke="#000" stroke-width="0.15">10</text>
<text transform="translate(36.3,242.9) rotate(-90)" text-anchor="middle" font-size="8.6" stroke="#000" stroke-width="0.15">20</text>
<text transform="translate(36.3,222.9) rotate(-90)" text-anchor="middle" font-size="8.6" stroke="#000" stroke-width="0.15">30</text>
<text transform="translate(36.3,202.9) rotate(-90)" text-anchor="middle" font-size="8.6" stroke="#000" stroke-width="0.15">40</text>
<text x="37.1" y="296.6" font-size="9" textLength="6.4" lengthAdjust="spacingAndGlyphs" stroke="#000" stroke-width="0.4">10</text>
<text x="43.9" y="291.5" font-size="7.2" textLength="3.9" lengthAdjust="spacingAndGlyphs" stroke="#000" stroke-width="0.25">0</text>
<text x="62.0" y="296.6" font-size="9" textLength="6.4" lengthAdjust="spacingAndGlyphs" stroke="#000" stroke-width="0.4">10</text>
<text x="68.8" y="291.5" font-size="7.2" textLength="3.9" lengthAdjust="spacingAndGlyphs" stroke="#000" stroke-width="0.25">1</text>
<text x="86.9" y="296.6" font-size="9" textLength="6.4" lengthAdjust="spacingAndGlyphs" stroke="#000" stroke-width="0.4">10</text>
<text x="93.7" y="291.5" font-size="7.2" textLength="3.9" lengthAdjust="spacingAndGlyphs" stroke="#000" stroke-width="0.25">2</text>
<text x="111.8" y="296.6" font-size="9" textLength="6.4" lengthAdjust="spacingAndGlyphs" stroke="#000" stroke-width="0.4">10</text>
<text x="118.6" y="291.5" font-size="7.2" textLength="3.9" lengthAdjust="spacingAndGlyphs" stroke="#000" stroke-width="0.25">3</text>
<text x="136.7" y="296.6" font-size="9" textLength="6.4" lengthAdjust="spacingAndGlyphs" stroke="#000" stroke-width="0.4">10</text>
<text x="143.5" y="291.5" font-size="7.2" textLength="3.9" lengthAdjust="spacingAndGlyphs" stroke="#000" stroke-width="0.25">4</text>
<rect x="41.2" y="265.4" width="3.4" height="17.2" fill="#222"/>
<path d="M90.7,228.3V242.5" stroke="#000" stroke-width="1.8"/>
<path d="M90.7,235.8H142.0" stroke="#000" stroke-width="1.4"/>
<text x="74.4" y="213.4" font-size="10.5" stroke="#000" stroke-width="0.3" textLength="19.0" lengthAdjust="spacingAndGlyphs">MFI</text>
<text x="97.2" y="213.4" font-size="10.5" stroke="#000" stroke-width="0.3" textLength="12.3" lengthAdjust="spacingAndGlyphs">24</text>
<text transform="translate(102.5,247.7) scale(1.06,1)" font-size="11.4" stroke="#000" stroke-width="0.12" textLength="28.0" lengthAdjust="spacing">1.8%</text>
<rect x="166.4" y="234.1" width="2.1" height="9" fill="#000"/>
<polyline points="167.4,234.1 167.4,264.5 167.4,263.3 167.6,262.6 167.6,262.1 167.8,261.1 168.0,260.3 167.4,260.2 167.8,259.3 168.3,259.0 168.3,257.5 167.9,256.9 168.1,256.1 168.2,255.6 168.4,255.5 168.9,253.9 168.8,254.0 168.5,253.6 169.0,252.2 169.1,251.6 169.1,251.4 169.3,250.1 169.8,249.0 169.5,249.4 169.9,248.5 170.1,246.8 170.0,246.6 170.4,246.6 170.0,245.7 170.1,244.4 170.3,243.8 170.8,243.6 171.1,241.8 170.7,242.2 171.4,240.8 171.6,239.9 172.1,240.0 172.5,238.8 172.5,238.3 172.9,237.3 173.7,236.8 174.4,235.8 174.5,235.4 175.1,235.5 175.1,233.7 175.1,232.9 175.6,232.9 175.1,231.5 175.9,230.3 175.8,230.2 176.2,231.0 175.8,231.4 176.7,231.7 176.4,234.0 176.4,234.3 176.7,235.3 177.4,235.7 177.1,236.0 177.0,237.5 177.4,238.0 178.0,238.4 178.0,239.4 178.8,240.3 178.9,240.1 178.8,241.2 178.7,242.3 179.1,243.2 179.3,244.0 179.0,244.7 179.5,245.1 179.9,245.7 180.0,246.6 180.5,246.7 180.5,247.6 180.7,248.3 180.7,249.0 181.0,249.2 180.9,250.9 180.9,251.4 181.2,251.8 181.2,252.9 181.3,253.1 181.4,253.9 181.5,254.7 182.0,255.4 182.1,255.6 182.0,256.7 182.7,257.6 182.7,257.9 182.9,258.5 183.2,259.9 182.9,260.9 183.0,261.0 183.3,261.9 183.6,263.0 183.5,263.0 183.9,264.0 184.1,265.3 184.3,265.7 184.5,266.5 184.2,267.4 184.2,267.7 184.6,268.4 184.6,269.3 185.0,269.9 185.3,270.5 185.3,271.7 185.5,271.8 185.7,272.7 185.9,273.5 186.1,274.2 186.2,274.8 186.7,275.7 186.9,276.0 186.9,276.7 187.0,277.7 187.4,278.4 187.5,279.0 187.8,279.5 188.4,280.6 188.4,281.5 189.0,282.0" fill="none" stroke="#000" stroke-width="1.2" stroke-linejoin="miter" stroke-miterlimit="2"/>
<polygon points="165.0,283.3 165.0,279.8 165.6,279.8 165.6,279.7 166.1,279.7 166.1,279.6 166.7,279.6 166.7,279.2 167.2,279.2 167.2,279.3 167.8,279.3 167.8,279.6 168.3,279.6 168.3,279.6 168.9,279.6 168.9,279.0 169.4,279.0 169.4,279.1 170.0,279.1 170.0,279.7 170.5,279.7 170.5,279.1 171.1,279.1 171.1,279.5 171.6,279.5 171.6,279.3 172.2,279.3 172.2,279.5 172.7,279.5 172.7,279.7 173.3,279.7 173.3,279.5 173.8,279.5 173.8,279.3 174.4,279.3 174.4,279.3 174.9,279.3 174.9,279.5 175.5,279.5 175.5,279.5 176.0,279.5 176.0,279.3 176.6,279.3 176.6,279.4 177.1,279.4 177.1,279.4 177.7,279.4 177.7,279.2 178.2,279.2 178.2,279.1 178.8,279.1 178.8,279.5 179.3,279.5 179.3,276.8 179.9,276.8 179.9,276.7 180.4,276.7 180.4,276.8 181.0,276.8 181.0,276.8 181.5,276.8 181.5,276.2 182.1,276.2 182.1,276.3 182.6,276.3 182.6,276.7 183.2,276.7 183.2,276.1 183.7,276.1 183.7,276.6 184.3,276.6 184.3,275.6 184.8,275.6 184.8,275.4 185.4,275.4 185.4,273.8 185.9,273.8 185.9,273.6 186.5,273.6 186.5,272.9 187.0,272.9 187.0,271.8 187.6,271.8 187.6,271.0 188.1,271.0 188.1,270.5 188.7,270.5 188.7,269.7 189.2,269.7 189.2,267.9 189.8,267.9 189.8,267.5 190.3,267.5 190.3,266.0 190.9,266.0 190.9,265.3 191.4,265.3 191.4,263.9 192.0,263.9 192.0,262.8 192.5,262.8 192.5,262.1 193.1,262.1 193.1,258.3 193.6,258.3 193.6,255.3 194.2,255.3 194.2,252.2 194.7,252.2 194.7,251.4 195.3,251.4 195.3,248.3 195.8,248.3 195.8,245.8 196.4,245.8 196.4,245.0 196.9,245.0 196.9,243.3 197.5,243.3 197.5,241.2 198.0,241.2 198.0,238.9 198.6,238.9 198.6,236.7 199.1,236.7 199.1,235.1 199.7,235.1 199.7,232.6 200.2,232.6 200.2,232.4 200.8,232.4 200.8,230.7 201.3,230.7 201.3,230.4 201.9,230.4 201.9,229.8 202.4,229.8 202.4,229.1 203.0,229.1 203.0,227.6 203.5,227.6 203.5,227.1 204.1,227.1 204.1,227.1 204.6,227.1 204.6,226.3 205.2,226.3 205.2,225.4 205.7,225.4 205.7,228.2 206.3,228.2 206.3,227.0 206.8,227.0 206.8,228.3 207.4,228.3 207.4,229.4 207.9,229.4 207.9,229.7 208.5,229.7 208.5,232.3 209.0,232.3 209.0,235.1 209.6,235.1 209.6,238.5 210.1,238.5 210.1,242.0 210.7,242.0 210.7,244.8 211.2,244.8 211.2,247.4 211.8,247.4 211.8,250.3 212.3,250.3 212.3,251.9 212.9,251.9 212.9,254.9 213.4,254.9 213.4,256.2 214.0,256.2 214.0,259.7 214.5,259.7 214.5,260.8 215.1,260.8 215.1,262.5 215.6,262.5 215.6,264.5 216.2,264.5 216.2,265.7 216.7,265.7 216.7,266.9 217.3,266.9 217.3,268.5 217.8,268.5 217.8,269.8 218.4,269.8 218.4,270.7 218.9,270.7 218.9,272.2 219.5,272.2 219.5,272.4 220.0,272.4 220.0,273.4 220.6,273.4 220.6,274.1 221.1,274.1 221.1,275.1 221.7,275.1 221.7,275.4 222.2,275.4 222.2,276.2 222.8,276.2 222.8,276.5 223.3,276.5 223.3,277.0 223.9,277.0 223.9,277.8 224.4,277.8 224.4,277.8 225.0,277.8 225.0,278.8 225.5,278.8 225.5,278.9 226.1,278.9 226.1,279.1 226.6,279.1 226.6,279.6 227.2,279.6 227.2,280.2 227.7,280.2 227.7,280.1 228.3,280.1 228.3,280.2 228.8,280.2 228.8,280.2 229.4,280.2 229.4,280.5 229.9,280.5 229.9,280.9 230.5,280.9 230.5,281.0 231.0,281.0 231.0,280.9 231.6,280.9 231.6,281.5 232.1,281.5 232.1,281.0 232.7,281.0 232.7,281.3 233.2,281.3 233.2,281.7 233.8,281.7 233.8,281.8 234.3,281.8 234.3,281.6 234.9,281.6 234.9,281.3 235.4,281.3 235.4,281.8 236.0,281.8 236.0,281.4 236.5,281.4 236.5,280.3 237.1,280.3 237.1,280.7 237.6,280.7 237.6,281.9 238.2,281.9 238.2,281.5 238.7,281.5 238.7,281.6 239.3,281.6 239.3,281.6 239.8,281.6 239.8,282.1 240.4,282.1 240.4,281.8 240.9,281.8 240.9,282.1 241.5,282.1 241.5,282.1 242.0,282.1 242.0,281.6 242.6,281.6 242.6,281.9 243.1,281.9 243.1,281.1 243.7,281.1 243.7,280.7 244.2,280.7 244.2,281.1 244.8,281.1 244.8,281.9 245.3,281.9 246.4,283.3" fill="#000"/>
<path d="M164.5,201.9 H263.0 V282.8" fill="none" stroke="#000" stroke-width="1.4"/>
<rect x="162.5" y="201.2" width="3.9" height="81.6" fill="#777"/>
<path d="M163.1,282.8V201.2M165.8,282.8V201.2" stroke="#000" stroke-width="1.2"/>
<path d="M162.5,282.8 H263.5" stroke="#000" stroke-width="1.9"/>
<path d="M159.5,282.8h3.0M160.9,278.8h1.6M160.9,274.8h1.6M160.9,270.8h1.6M160.9,266.8h1.6M159.5,262.8h3.0M160.9,258.8h1.6M160.9,254.8h1.6M160.9,250.8h1.6M160.9,246.8h1.6M159.5,242.8h3.0M160.9,238.8h1.6M160.9,234.8h1.6M160.9,230.8h1.6M160.9,226.8h1.6M159.5,222.8h3.0M160.9,218.8h1.6M160.9,214.8h1.6M160.9,210.8h1.6M160.9,206.8h1.6M159.5,202.8h3.0" stroke="#000" stroke-width="1"/>
<path d="M163.5,282.8v4.0M171.0,282.8v3.0M175.4,282.8v3.0M178.5,282.8v3.0M180.9,282.8v3.0M182.9,282.8v3.0M184.5,282.8v3.0M186.0,282.8v3.0M187.3,282.8v3.0M188.4,282.8v4.0M195.9,282.8v3.0M200.3,282.8v3.0M203.4,282.8v3.0M205.8,282.8v3.0M207.8,282.8v3.0M209.4,282.8v3.0M210.9,282.8v3.0M212.2,282.8v3.0M213.3,282.8v4.0M220.8,282.8v3.0M225.2,282.8v3.0M228.3,282.8v3.0M230.7,282.8v3.0M232.7,282.8v3.0M234.3,282.8v3.0M235.8,282.8v3.0M237.1,282.8v3.0M238.2,282.8v4.0M245.7,282.8v3.0M250.1,282.8v3.0M253.2,282.8v3.0M255.6,282.8v3.0M257.6,282.8v3.0M259.2,282.8v3.0M260.7,282.8v3.0M262.0,282.8v3.0M263.1,282.8v4" stroke="#000" stroke-width="0.9"/>
<text transform="translate(157.8,283.1) rotate(-90)" text-anchor="middle" font-size="8.6" stroke="#000" stroke-width="0.15">0</text>
<text transform="translate(157.8,263.1) rotate(-90)" text-anchor="middle" font-size="8.6" stroke="#000" stroke-width="0.15">10</text>
<text transform="translate(157.8,243.1) rotate(-90)" text-anchor="middle" font-size="8.6" stroke="#000" stroke-width="0.15">20</text>
<text transform="translate(157.8,223.1) rotate(-90)" text-anchor="middle" font-size="8.6" stroke="#000" stroke-width="0.15">30</text>
<text transform="translate(157.8,203.1) rotate(-90)" text-anchor="middle" font-size="8.6" stroke="#000" stroke-width="0.15">40</text>
<text x="158.6" y="296.8" font-size="9" textLength="6.4" lengthAdjust="spacingAndGlyphs" stroke="#000" stroke-width="0.4">10</text>
<text x="165.4" y="291.7" font-size="7.2" textLength="3.9" lengthAdjust="spacingAndGlyphs" stroke="#000" stroke-width="0.25">0</text>
<text x="183.5" y="296.8" font-size="9" textLength="6.4" lengthAdjust="spacingAndGlyphs" stroke="#000" stroke-width="0.4">10</text>
<text x="190.3" y="291.7" font-size="7.2" textLength="3.9" lengthAdjust="spacingAndGlyphs" stroke="#000" stroke-width="0.25">1</text>
<text x="208.4" y="296.8" font-size="9" textLength="6.4" lengthAdjust="spacingAndGlyphs" stroke="#000" stroke-width="0.4">10</text>
<text x="215.2" y="291.7" font-size="7.2" textLength="3.9" lengthAdjust="spacingAndGlyphs" stroke="#000" stroke-width="0.25">2</text>
<text x="233.3" y="296.8" font-size="9" textLength="6.4" lengthAdjust="spacingAndGlyphs" stroke="#000" stroke-width="0.4">10</text>
<text x="240.1" y="291.7" font-size="7.2" textLength="3.9" lengthAdjust="spacingAndGlyphs" stroke="#000" stroke-width="0.25">3</text>
<text x="258.2" y="296.8" font-size="9" textLength="6.4" lengthAdjust="spacingAndGlyphs" stroke="#000" stroke-width="0.4">10</text>
<text x="265.0" y="291.7" font-size="7.2" textLength="3.9" lengthAdjust="spacingAndGlyphs" stroke="#000" stroke-width="0.25">4</text>
<path d="M211.0,229.6V243.8" stroke="#000" stroke-width="1.8"/>
<path d="M211.0,237.3H263.0" stroke="#000" stroke-width="1.4"/>
<text x="193.5" y="213.8" font-size="10.5" stroke="#000" stroke-width="0.3" textLength="19.0" lengthAdjust="spacingAndGlyphs">MFI</text>
<text x="216.9" y="213.8" font-size="10.5" stroke="#000" stroke-width="0.3" textLength="12.3" lengthAdjust="spacingAndGlyphs">57</text>
<text transform="translate(220.5,249.6) scale(1.06,1)" font-size="11.4" stroke="#000" stroke-width="0.12" textLength="35.4" lengthAdjust="spacing">16.0%</text>
<rect x="290.4" y="234.1" width="2.1" height="9" fill="#000"/>
<polyline points="291.4,234.1 291.4,260.6 291.7,260.0 292.1,258.9 292.4,258.0 292.8,257.0 293.0,256.6 292.5,256.2 292.8,255.8 293.3,254.1 293.6,253.5 293.8,252.4 293.4,252.5 293.7,251.6 293.6,250.7 293.6,250.3 294.3,249.2 294.3,248.8 294.5,248.8 294.4,247.1 294.5,246.9 295.1,246.6 294.6,244.6 295.3,244.1 295.0,243.8 295.3,242.5 295.3,242.7 295.9,241.4 295.5,241.4 295.7,239.6 295.7,239.0 296.3,239.0 295.7,238.0 296.3,237.3 296.8,237.1 297.1,235.9 297.1,235.8 297.3,233.7 297.6,233.4 297.6,232.4 298.0,231.5 298.2,231.8 298.3,229.7 298.9,229.6 298.8,228.2 300.0,228.7 300.1,226.3 300.1,226.9 300.2,225.7 300.2,224.6 300.8,224.2 301.0,223.8 301.8,223.6 302.2,223.1 302.1,221.8 302.0,221.3 302.3,220.3 302.7,220.4 303.1,218.6 303.4,217.9 303.2,217.2 303.7,215.6 304.3,215.7 303.4,215.6 303.3,214.6 304.0,213.4 303.9,215.1 303.7,215.7 304.5,216.0 304.3,215.9 304.7,216.6 305.2,217.8 305.1,219.0 304.9,219.2 304.7,219.9 304.7,219.9 304.8,222.4 305.5,221.9 305.9,222.3 305.4,222.8 306.0,224.4 305.7,224.7 306.0,225.7 306.2,227.3 306.6,228.0 306.8,228.1 307.4,227.9 307.5,230.2 306.7,229.3 307.3,230.9 307.3,231.2 307.7,232.0 307.9,233.0 307.6,233.2 308.1,233.8 308.0,234.6 308.3,236.1 308.2,237.0 308.6,236.4 308.6,237.9 308.6,238.6 308.8,239.3 309.1,240.5 309.1,240.1 308.8,241.1 309.4,242.3 308.7,243.3 308.7,243.6 308.9,243.9 309.5,245.9 309.2,245.5 309.9,247.3 309.9,247.8 309.4,247.5 309.4,248.9 309.4,249.8 309.9,250.3 309.6,251.7 310.3,252.1 310.1,252.8 310.5,253.4 310.3,254.1 310.6,254.1 310.6,254.9 310.6,255.5 310.9,256.7 310.8,257.7 310.8,258.1 311.1,258.8 310.9,259.7 310.9,261.0 311.3,261.7 311.2,261.9 311.1,262.8 311.6,263.4 311.8,263.8 311.8,264.5 311.8,265.1 311.5,266.1 312.0,266.6 312.1,267.2 312.3,268.0 312.2,268.6 312.3,269.2 312.5,270.1 312.4,271.0 312.6,271.8 312.8,272.7 312.9,273.3 312.7,273.5 312.9,274.3 312.9,274.9 313.0,275.8 313.2,276.9 313.6,277.4 313.5,278.0 313.6,279.1 313.8,279.7 313.8,280.0 314.2,280.8 314.2,281.9 314.5,282.2 314.5,283.0" fill="none" stroke="#000" stroke-width="1.2" stroke-linejoin="miter" stroke-miterlimit="2"/>
<polygon points="289.0,283.5 289.0,280.3 289.6,280.3 289.6,279.9 290.1,279.9 290.1,280.2 290.7,280.2 290.7,280.4 291.2,280.4 291.2,279.9 291.8,279.9 291.8,280.2 292.3,280.2 292.3,279.9 292.9,279.9 292.9,279.7 293.4,279.7 293.4,279.9 294.0,279.9 294.0,280.2 294.5,280.2 294.5,279.7 295.1,279.7 295.1,280.1 295.6,280.1 295.6,279.9 296.2,279.9 296.2,279.7 296.7,279.7 296.7,279.9 297.3,279.9 297.3,279.9 297.8,279.9 297.8,280.0 298.4,280.0 298.4,280.3 298.9,280.3 298.9,280.3 299.5,280.3 299.5,279.8 300.0,279.8 300.0,280.4 300.6,280.4 300.6,280.1 301.1,280.1 301.1,280.4 301.7,280.4 301.7,280.3 302.2,280.3 302.2,280.0 302.8,280.0 302.8,279.8 303.3,279.8 303.3,279.0 303.9,279.0 303.9,278.9 304.4,278.9 304.4,278.3 305.0,278.3 305.0,277.8 305.5,277.8 305.5,278.4 306.1,278.4 306.1,278.3 306.6,278.3 306.6,278.4 307.2,278.4 307.2,278.5 307.7,278.5 307.7,278.5 308.3,278.5 308.3,278.3 308.8,278.3 308.8,278.0 309.4,278.0 309.4,278.1 309.9,278.1 309.9,277.8 310.5,277.8 310.5,276.9 311.0,276.9 311.0,275.8 311.6,275.8 311.6,274.9 312.1,274.9 312.1,273.5 312.7,273.5 312.7,272.4 313.2,272.4 313.2,271.4 313.8,271.4 313.8,269.8 314.3,269.8 314.3,268.6 314.9,268.6 314.9,267.0 315.4,267.0 315.4,265.2 316.0,265.2 316.0,264.4 316.5,264.4 316.5,263.1 317.1,263.1 317.1,261.9 317.6,261.9 317.6,260.5 318.2,260.5 318.2,259.1 318.7,259.1 318.7,258.2 319.3,258.2 319.3,257.3 319.8,257.3 319.8,256.0 320.4,256.0 320.4,254.9 320.9,254.9 320.9,252.9 321.5,252.9 321.5,250.6 322.0,250.6 322.0,249.6 322.6,249.6 322.6,247.9 323.1,247.9 323.1,247.4 323.7,247.4 323.7,244.5 324.2,244.5 324.2,243.3 324.8,243.3 324.8,240.2 325.3,240.2 325.3,237.8 325.9,237.8 325.9,235.7 326.4,235.7 326.4,232.6 327.0,232.6 327.0,228.8 327.5,228.8 327.5,228.4 328.1,228.4 328.1,225.9 328.6,225.9 328.6,225.2 329.2,225.2 329.2,220.9 329.7,220.9 329.7,222.5 330.3,222.5 330.3,227.7 330.8,227.7 330.8,229.1 331.4,229.1 331.4,229.3 331.9,229.3 331.9,231.9 332.5,231.9 332.5,233.0 333.0,233.0 333.0,231.3 333.6,231.3 333.6,229.8 334.1,229.8 334.1,230.8 334.7,230.8 334.7,231.6 335.2,231.6 335.2,235.4 335.8,235.4 335.8,238.9 336.3,238.9 336.3,244.4 336.9,244.4 336.9,246.9 337.4,246.9 337.4,250.2 338.0,250.2 338.0,254.1 338.5,254.1 338.5,256.7 339.1,256.7 339.1,258.6 339.6,258.6 339.6,258.9 340.2,258.9 340.2,260.9 340.7,260.9 340.7,261.5 341.3,261.5 341.3,263.4 341.8,263.4 341.8,264.0 342.4,264.0 342.4,265.4 342.9,265.4 342.9,266.7 343.5,266.7 343.5,267.4 344.0,267.4 344.0,268.4 344.6,268.4 344.6,268.9 345.1,268.9 345.1,270.2 345.7,270.2 345.7,271.6 346.2,271.6 346.2,272.5 346.8,272.5 346.8,273.1 347.3,273.1 347.3,273.5 347.9,273.5 347.9,274.9 348.4,274.9 348.4,275.7 349.0,275.7 349.0,276.3 349.5,276.3 349.5,276.9 350.1,276.9 350.1,277.7 350.6,277.7 350.6,278.5 351.2,278.5 351.2,279.4 351.7,279.4 351.7,279.5 352.3,279.5 352.3,280.2 352.8,280.2 352.8,280.3 353.4,280.3 353.4,281.0 353.9,281.0 353.9,280.9 354.5,280.9 354.5,281.1 355.0,281.1 355.0,281.1 355.6,281.1 355.6,281.4 356.1,281.4 356.1,281.9 356.7,281.9 356.7,282.0 357.2,282.0 357.2,282.2 357.8,282.2 357.8,281.7 358.3,281.7 358.3,282.0 358.9,282.0 358.9,281.8 359.4,281.8 359.4,281.5 360.0,281.5 360.0,281.8 360.5,281.8 360.5,281.4 361.1,281.4 361.1,281.0 361.6,281.0 361.6,281.3 362.2,281.3 362.2,281.1 362.7,281.1 362.7,281.3 363.3,281.3 363.3,281.4 363.8,281.4 363.8,281.6 364.4,281.6 364.4,281.4 364.9,281.4 364.9,282.2 365.5,282.2 365.5,282.0 366.0,282.0 366.0,282.1 366.6,282.1 366.6,281.8 367.1,281.8 367.1,281.9 367.7,281.9 367.7,281.4 368.2,281.4 368.2,281.2 368.8,281.2 368.8,281.2 369.3,281.2 369.3,281.6 369.9,281.6 369.9,281.4 370.4,281.4 370.4,281.5 371.0,281.5 371.0,281.2 371.5,281.2 371.5,281.6 372.1,281.6 372.1,282.0 372.6,282.0 372.6,282.1 373.2,282.1 373.2,282.0 373.7,282.0 373.7,281.9 374.3,281.9 374.3,282.0 374.8,282.0 374.8,282.3 375.4,282.3 375.4,282.1 375.9,282.1 375.9,281.7 376.5,281.7 376.5,281.4 377.0,281.4 377.0,281.5 377.6,281.5 377.6,281.3 378.1,281.3 378.1,281.3 378.7,281.3 378.7,281.7 379.2,281.7 379.2,281.6 379.8,281.6 379.8,281.4 380.3,281.4 380.3,282.0 380.9,282.0 380.9,282.1 381.4,282.1 381.4,281.8 382.0,281.8 382.0,282.2 382.5,282.2 386.0,283.5" fill="#000"/>
<path d="M288.5,202.0 H387.0 V283.0" fill="none" stroke="#000" stroke-width="1.4"/>
<rect x="286.5" y="201.3" width="3.9" height="81.7" fill="#bbb"/>
<path d="M287.1,283.0V201.3M289.8,283.0V201.3" stroke="#000" stroke-width="1.2"/>
<path d="M286.5,283.0 H387.5" stroke="#000" stroke-width="1.9"/>
<path d="M283.5,283.0h3.0M284.9,279.0h1.6M284.9,275.0h1.6M284.9,271.0h1.6M284.9,267.0h1.6M283.5,263.0h3.0M284.9,259.0h1.6M284.9,255.0h1.6M284.9,251.0h1.6M284.9,247.0h1.6M283.5,243.0h3.0M284.9,239.0h1.6M284.9,235.0h1.6M284.9,231.0h1.6M284.9,227.0h1.6M283.5,223.0h3.0M284.9,219.0h1.6M284.9,215.0h1.6M284.9,211.0h1.6M284.9,207.0h1.6M283.5,203.0h3.0" stroke="#000" stroke-width="1"/>
<path d="M287.5,283.0v4.0M295.0,283.0v3.0M299.4,283.0v3.0M302.5,283.0v3.0M304.9,283.0v3.0M306.9,283.0v3.0M308.5,283.0v3.0M310.0,283.0v3.0M311.3,283.0v3.0M312.4,283.0v4.0M319.9,283.0v3.0M324.3,283.0v3.0M327.4,283.0v3.0M329.8,283.0v3.0M331.8,283.0v3.0M333.4,283.0v3.0M334.9,283.0v3.0M336.2,283.0v3.0M337.3,283.0v4.0M344.8,283.0v3.0M349.2,283.0v3.0M352.3,283.0v3.0M354.7,283.0v3.0M356.7,283.0v3.0M358.3,283.0v3.0M359.8,283.0v3.0M361.1,283.0v3.0M362.2,283.0v4.0M369.7,283.0v3.0M374.1,283.0v3.0M377.2,283.0v3.0M379.6,283.0v3.0M381.6,283.0v3.0M383.2,283.0v3.0M384.7,283.0v3.0M386.0,283.0v3.0M387.1,283.0v4" stroke="#000" stroke-width="0.9"/>
<text transform="translate(281.8,283.3) rotate(-90)" text-anchor="middle" font-size="8.6" stroke="#000" stroke-width="0.15">0</text>
<text transform="translate(281.8,263.3) rotate(-90)" text-anchor="middle" font-size="8.6" stroke="#000" stroke-width="0.15">10</text>
<text transform="translate(281.8,243.3) rotate(-90)" text-anchor="middle" font-size="8.6" stroke="#000" stroke-width="0.15">20</text>
<text transform="translate(281.8,223.3) rotate(-90)" text-anchor="middle" font-size="8.6" stroke="#000" stroke-width="0.15">30</text>
<text transform="translate(281.8,203.3) rotate(-90)" text-anchor="middle" font-size="8.6" stroke="#000" stroke-width="0.15">40</text>
<text x="282.6" y="297.0" font-size="9" textLength="6.4" lengthAdjust="spacingAndGlyphs" stroke="#000" stroke-width="0.4">10</text>
<text x="289.4" y="291.9" font-size="7.2" textLength="3.9" lengthAdjust="spacingAndGlyphs" stroke="#000" stroke-width="0.25">0</text>
<text x="307.5" y="297.0" font-size="9" textLength="6.4" lengthAdjust="spacingAndGlyphs" stroke="#000" stroke-width="0.4">10</text>
<text x="314.3" y="291.9" font-size="7.2" textLength="3.9" lengthAdjust="spacingAndGlyphs" stroke="#000" stroke-width="0.25">1</text>
<text x="332.4" y="297.0" font-size="9" textLength="6.4" lengthAdjust="spacingAndGlyphs" stroke="#000" stroke-width="0.4">10</text>
<text x="339.2" y="291.9" font-size="7.2" textLength="3.9" lengthAdjust="spacingAndGlyphs" stroke="#000" stroke-width="0.25">2</text>
<text x="357.3" y="297.0" font-size="9" textLength="6.4" lengthAdjust="spacingAndGlyphs" stroke="#000" stroke-width="0.4">10</text>
<text x="364.1" y="291.9" font-size="7.2" textLength="3.9" lengthAdjust="spacingAndGlyphs" stroke="#000" stroke-width="0.25">3</text>
<text x="382.2" y="297.0" font-size="9" textLength="6.4" lengthAdjust="spacingAndGlyphs" stroke="#000" stroke-width="0.4">10</text>
<text x="389.0" y="291.9" font-size="7.2" textLength="3.9" lengthAdjust="spacingAndGlyphs" stroke="#000" stroke-width="0.25">4</text>
<path d="M334.8,229.6V244.0" stroke="#000" stroke-width="1.8"/>
<path d="M334.8,238.1H387.0" stroke="#000" stroke-width="1.4"/>
<text x="319.8" y="214.3" font-size="10.5" stroke="#000" stroke-width="0.3" textLength="19.0" lengthAdjust="spacingAndGlyphs">MFI</text>
<text x="342.2" y="214.3" font-size="10.5" stroke="#000" stroke-width="0.3" textLength="12.3" lengthAdjust="spacingAndGlyphs">60</text>
<text transform="translate(342.3,249.6) scale(1.06,1)" font-size="11.4" stroke="#000" stroke-width="0.12" textLength="35.4" lengthAdjust="spacing">16.3%</text>
<text transform="translate(12.1,148.5) rotate(-90)" text-anchor="middle" font-size="11.8" font-weight="bold" stroke="#000" stroke-width="0.3" textLength="131" lengthAdjust="spacing">relatiue cell number</text>
<path d="M20.6,56 V251" stroke="#000" stroke-width="1.6"/>
<path d="M20.8,45.3 L25.6,57.8 L16.1,57.8 Z" fill="#000"/>
<path d="M117.3,306.5 H303" stroke="#000" stroke-width="1.6"/>
<path d="M315.8,306.7 L302.3,303 L302.3,311 Z" fill="#000"/>
<text x="207.6" y="323.6" font-size="16.5" font-weight="bold" stroke="#000" stroke-width="0.8" textLength="23.2" lengthAdjust="spacingAndGlyphs">Fas</text>
<text x="16.5" y="372.7" font-size="23" font-weight="bold" stroke="#000" stroke-width="0.4">B</text>
<path d="M44.2,600.4 V401.2 H384.8 V600.4" fill="none" stroke="#000" stroke-width="1.4"/>
<path d="M43.5,600.4 H385.4" stroke="#000" stroke-width="1.6"/>
<path d="M40,401.2H44.2" stroke="#000" stroke-width="1.3"/>
<text x="26.8" y="406.4" font-size="13.8" stroke="#000" stroke-width="0.2" textLength="12" lengthAdjust="spacingAndGlyphs">30</text>
<path d="M40,467.6H44.2" stroke="#000" stroke-width="1.3"/>
<text x="26.8" y="472.8" font-size="13.8" stroke="#000" stroke-width="0.2" textLength="12" lengthAdjust="spacingAndGlyphs">20</text>
<path d="M40,534.0H44.2" stroke="#000" stroke-width="1.3"/>
<text x="26.8" y="539.2" font-size="13.8" stroke="#000" stroke-width="0.2" textLength="12" lengthAdjust="spacingAndGlyphs">10</text>
<path d="M40,600.4H44.2" stroke="#000" stroke-width="1.3"/>
<text x="33.0" y="605.6" font-size="13.8" stroke="#000" stroke-width="0.2" textLength="5.8" lengthAdjust="spacingAndGlyphs">0</text>
<defs><pattern id="hs" patternUnits="userSpaceOnUse" x="0" y="0.3" width="8" height="3.45"><rect width="8" height="3.45" fill="#fff"/><rect y="0" width="8" height="1.05" fill="#000"/></pattern></defs>
<path d="M55.4,591.9V590.7M52.1,590.7H58.6" stroke="#000" stroke-width="1.1"/>
<rect x="49.8" y="592.5" width="11.1" height="7.9" fill="#fff" stroke="#000" stroke-width="1.2"/>
<path d="M72.6,575.5V569.2M69.4,569.2H75.8" stroke="#000" stroke-width="1.1"/>
<rect x="66.8" y="576.1" width="11.6" height="24.3" fill="#fff" stroke="#000" stroke-width="1.2"/>
<path d="M66.2,599.20H79.0M66.2,595.75H79.0M66.2,592.30H79.0M66.2,588.85H79.0M66.2,585.40H79.0M66.2,581.95H79.0M66.2,578.50H79.0" stroke="#000" stroke-width="1.0"/>
<path d="M90.3,587.0V585.2M87.1,585.2H93.5" stroke="#000" stroke-width="1.1"/>
<rect x="84.7" y="587.6" width="11.2" height="12.8" fill="#000" stroke="#000" stroke-width="1.2"/>
<path d="M126.0,581.0V577.6M122.8,577.6H129.2" stroke="#000" stroke-width="1.1"/>
<rect x="120.1" y="581.6" width="11.7" height="18.8" fill="#fff" stroke="#000" stroke-width="1.2"/>
<path d="M144.2,465.3V449.7M141.0,449.7H147.4" stroke="#000" stroke-width="1.1"/>
<rect x="138.6" y="465.9" width="11.2" height="134.5" fill="#fff" stroke="#000" stroke-width="1.2"/>
<path d="M138.0,599.20H150.4M138.0,595.75H150.4M138.0,592.30H150.4M138.0,588.85H150.4M138.0,585.40H150.4M138.0,581.95H150.4M138.0,578.50H150.4M138.0,575.05H150.4M138.0,571.60H150.4M138.0,568.15H150.4M138.0,564.70H150.4M138.0,561.25H150.4M138.0,557.80H150.4M138.0,554.35H150.4M138.0,550.90H150.4M138.0,547.45H150.4M138.0,544.00H150.4M138.0,540.55H150.4M138.0,537.10H150.4M138.0,533.65H150.4M138.0,530.20H150.4M138.0,526.75H150.4M138.0,523.30H150.4M138.0,519.85H150.4M138.0,516.40H150.4M138.0,512.95H150.4M138.0,509.50H150.4M138.0,506.05H150.4M138.0,502.60H150.4M138.0,499.15H150.4M138.0,495.70H150.4M138.0,492.25H150.4M138.0,488.80H150.4M138.0,485.35H150.4M138.0,481.90H150.4M138.0,478.45H150.4M138.0,475.00H150.4M138.0,471.55H150.4M138.0,468.10H150.4" stroke="#000" stroke-width="1.0"/>
<path d="M161.1,537.8V525.5M157.9,525.5H164.2" stroke="#000" stroke-width="1.1"/>
<rect x="155.2" y="538.4" width="11.7" height="62.0" fill="#000" stroke="#000" stroke-width="1.2"/>
<path d="M196.5,593.4V592.0M193.3,592.0H199.7" stroke="#000" stroke-width="1.1"/>
<rect x="190.8" y="594.0" width="11.4" height="6.4" fill="#fff" stroke="#000" stroke-width="1.2"/>
<path d="M214.2,578.8V570.8M211.0,570.8H217.3" stroke="#000" stroke-width="1.1"/>
<rect x="208.6" y="579.4" width="11.1" height="21.0" fill="#fff" stroke="#000" stroke-width="1.2"/>
<path d="M208.0,599.20H220.3M208.0,595.75H220.3M208.0,592.30H220.3M208.0,588.85H220.3M208.0,585.40H220.3M208.0,581.95H220.3" stroke="#000" stroke-width="1.0"/>
<path d="M231.3,591.8V590.3M228.2,590.3H234.5" stroke="#000" stroke-width="1.1"/>
<rect x="225.6" y="592.4" width="11.5" height="8.0" fill="#000" stroke="#000" stroke-width="1.2"/>
<path d="M266.6,595.4V593.5M263.4,593.5H269.8" stroke="#000" stroke-width="1.1"/>
<rect x="260.8" y="596.0" width="11.6" height="4.4" fill="#fff" stroke="#000" stroke-width="1.2"/>
<path d="M284.1,593.0V591.2M280.9,591.2H287.3" stroke="#000" stroke-width="1.1"/>
<rect x="278.6" y="593.6" width="11.1" height="6.8" fill="#fff" stroke="#000" stroke-width="1.2"/>
<path d="M278.0,599.20H290.3M278.0,595.75H290.3" stroke="#000" stroke-width="1.0"/>
<path d="M301.4,595.8V595.0M298.2,595.0H304.6" stroke="#000" stroke-width="1.1"/>
<rect x="295.6" y="596.4" width="11.5" height="4.0" fill="#000" stroke="#000" stroke-width="1.2"/>
<path d="M336.6,598.5V597.8M333.4,597.8H339.8" stroke="#000" stroke-width="1.1"/>
<rect x="331.1" y="599.1" width="11.1" height="1.3" fill="#fff" stroke="#000" stroke-width="1.2"/>
<path d="M354.1,597.0V595.7M350.9,595.7H357.3" stroke="#000" stroke-width="1.1"/>
<rect x="348.6" y="597.6" width="11.1" height="2.8" fill="#fff" stroke="#000" stroke-width="1.2"/>
<path d="M348.0,599.20H360.3" stroke="#000" stroke-width="1.0"/>
<path d="M371.4,598.0V597.5M368.2,597.5H374.6" stroke="#000" stroke-width="1.1"/>
<rect x="365.6" y="598.6" width="11.5" height="1.8" fill="#000" stroke="#000" stroke-width="1.2"/>
<text x="60.9" y="614.8" font-size="13.3" stroke="#000" stroke-width="0.2" textLength="23.9" lengthAdjust="spacingAndGlyphs">Total</text>
<text x="128.7" y="614.8" font-size="13.3" stroke="#000" stroke-width="0.2" textLength="27.3" lengthAdjust="spacingAndGlyphs">CD4+</text>
<text x="184.6" y="614.8" font-size="13.3" stroke="#000" stroke-width="0.2" textLength="58.4" lengthAdjust="spacingAndGlyphs">CD4+CD8+</text>
<text x="253.8" y="614.8" font-size="13.3" stroke="#000" stroke-width="0.2" textLength="60.0" lengthAdjust="spacingAndGlyphs">CD8+CD4lo</text>
<text x="339.7" y="614.8" font-size="13.3" stroke="#000" stroke-width="0.2" textLength="28.0" lengthAdjust="spacingAndGlyphs">CD8+</text>
<text transform="translate(19.3,539.3) rotate(-90)" font-size="15.5" font-weight="bold" stroke="#000" stroke-width="0.3" textLength="51.4" lengthAdjust="spacingAndGlyphs">% of Fas</text>
<text transform="translate(11.7,486.0) rotate(-90)" font-size="12.5" font-weight="bold" stroke="#000" stroke-width="0.25" textLength="8.0" lengthAdjust="spacingAndGlyphs">hi</text>
<text transform="translate(19.3,472.9) rotate(-90)" font-size="15.5" font-weight="bold" stroke="#000" stroke-width="0.3" textLength="28.1" lengthAdjust="spacingAndGlyphs">cells</text>
<rect x="400.9" y="469.7" width="19.6" height="9.2" fill="#fff" stroke="#000" stroke-width="1.2"/>
<rect x="400.7" y="490.6" width="19.8" height="11.3" fill="#fff" stroke="#000" stroke-width="1.2"/>
<path d="M400.7,494.8H420.5M400.7,498.3H420.5" stroke="#000" stroke-width="1.0"/>
<rect x="400.3" y="513.4" width="20.7" height="11.5" fill="#000"/>
<text x="424.3" y="479.2" font-size="14.3" font-weight="bold" stroke="#000" stroke-width="0.2" textLength="27.2" lengthAdjust="spacingAndGlyphs">IgG1</text>
<text x="424.3" y="501.3" font-size="14.3" font-weight="bold" stroke="#000" stroke-width="0.2" textLength="53.7" lengthAdjust="spacingAndGlyphs">anti-CD3</text>
<text x="424.3" y="525.0" font-size="14.3" font-weight="bold" stroke="#000" stroke-width="0.2" textLength="94.5" lengthAdjust="spacingAndGlyphs">anti-CD3 + CsA</text>
</svg></body></html>
